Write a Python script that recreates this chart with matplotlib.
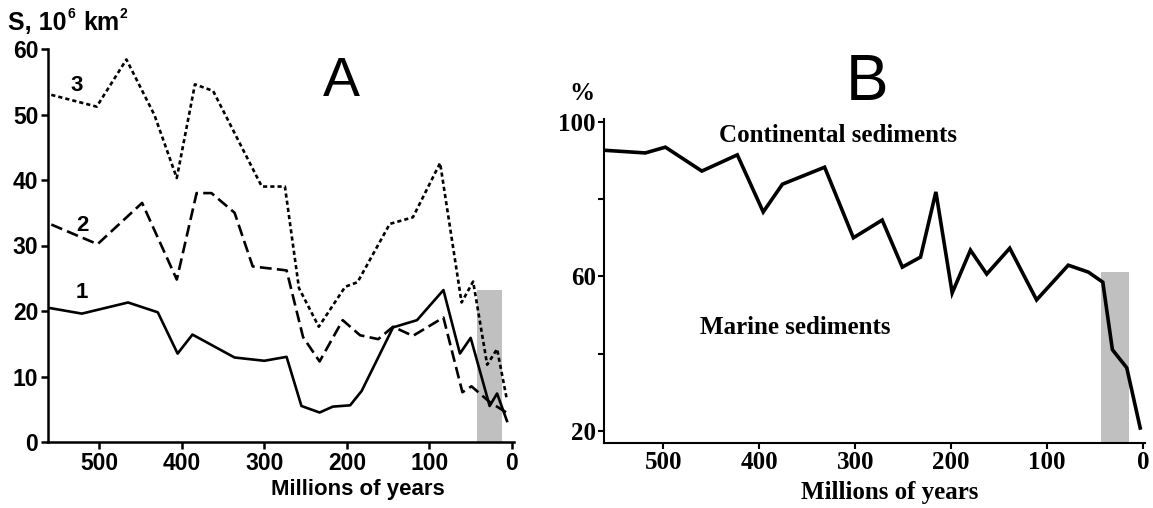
import matplotlib
matplotlib.use("Agg")
import matplotlib.pyplot as plt

# ---------------- data ----------------
# Panel A: area S, 10^6 km^2 vs age (Ma)
a1_age = [562, 521, 465, 429, 405, 387, 336, 300, 273, 255, 233, 217, 196, 182, 144, 115, 83, 63, 50, 27, 18, 6]
a1_val = [20.5, 19.6, 21.3, 19.8, 13.5, 16.4, 12.9, 12.4, 13.0, 5.5, 4.5, 5.4, 5.6, 7.8, 17.5, 18.6, 23.2, 13.5, 15.9, 5.5, 7.4, 3.2]

a2_age = [558, 502, 448, 406, 382, 364, 336, 314, 273, 253, 233, 205, 184, 162, 144, 120, 83, 60, 49, 27, 4]
a2_val = [33.2, 30.2, 36.5, 24.8, 38.0, 38.0, 35.0, 26.8, 26.2, 16.0, 12.3, 18.6, 16.3, 15.7, 17.6, 16.2, 19.0, 7.6, 8.5, 6.1, 4.3]

a3_age = [558, 503, 467, 433, 406, 384, 362, 303, 275, 258, 234, 202, 187, 148, 120, 87, 61, 47, 30, 18, 6]
a3_val = [53.0, 51.2, 58.4, 49.9, 40.3, 54.6, 53.6, 39.0, 39.0, 23.5, 17.6, 23.7, 24.4, 33.3, 34.3, 42.6, 21.3, 24.5, 11.8, 14.2, 6.4]

a_shade_age = [42, 12]
a_shade_top = 23.2
a_xticks = [500, 400, 300, 200, 100, 0]
a_yticks = [0, 10, 20, 30, 40, 50, 60]

# Panel B: % continental sediments vs age (Ma)
b_age = [562, 519, 498, 460, 423, 396, 376, 332, 302, 272, 251, 232, 216, 199, 180, 163, 139, 111, 78, 57, 42, 32, 17, 3]
b_val = [92.7, 92.0, 93.5, 87.3, 91.5, 76.7, 83.9, 88.3, 70.0, 74.6, 62.4, 65.0, 81.9, 55.7, 66.8, 60.6, 67.3, 53.9, 62.9, 61.1, 58.5, 41.0, 36.3, 20.7]
b_shade_age = [44, 15]
b_shade_top = 61.1
b_xticks = [500, 400, 300, 200, 100, 0]
b_yticks = [100, 60, 20]
b_yminor = [80, 40]

# ---------------- figure ----------------
W, H = 1153, 508
plt.rcParams['lines.scale_dashes'] = False
fig = plt.figure(figsize=(W / 100, H / 100), dpi=100)


def box(x0, y0, x1, y1):
    # pixel coordinates (top-left origin) -> figure fraction rect
    return [x0 / W, 1 - y1 / H, (x1 - x0) / W, (y1 - y0) / H]


def px(x, y):
    return x / W, 1 - y / H


SANS = 'Liberation Sans'
SERIF = 'Liberation Serif'
GRAY = '#c0c0c0'

# ---------- Panel A ----------
axA = fig.add_axes(box(48, 49, 514, 442))
axA.set_xlim(562, -2.5)
axA.set_ylim(0, 60)
axA.fill_between(a_shade_age, 0, a_shade_top, color=GRAY, lw=0, zorder=1)
axA.plot(a1_age, a1_val, color='black', lw=1.9, zorder=3)
axA.plot(a2_age, a2_val, color='black', lw=1.9, dashes=(8.5, 3.8), zorder=3)
axA.plot(a3_age, a3_val, color='black', lw=1.9, dashes=(3.0, 2.2), zorder=3)
axA.set_xticks(a_xticks)
axA.set_yticks(a_yticks)
for s in ['top', 'right']:
    axA.spines[s].set_visible(False)
for s in ['left', 'bottom']:
    axA.spines[s].set_linewidth(1.8)
axA.tick_params(direction='out', length=5, width=1.8, pad=2, labelsize=16.5)
for lab in axA.get_xticklabels() + axA.get_yticklabels():
    lab.set_fontfamily(SANS)
    lab.set_fontweight('bold')
axA.text(527, 54.4, '3', fontsize=16, fontweight='bold', family=SANS, ha='center', va='center')
axA.text(520, 33.1, '2', fontsize=16, fontweight='bold', family=SANS, ha='center', va='center')
axA.text(521, 22.9, '1', fontsize=16, fontweight='bold', family=SANS, ha='center', va='center')

fig.text(*px(358, 489), 'Millions of years', fontsize=16, fontweight='bold', family=SANS,
         ha='center', va='center')
# y-axis title with small superscripts
fig.text(*px(8, 23), 'S, 10', fontsize=18, fontweight='bold', family=SANS, ha='left', va='center')
fig.text(*px(67.5, 14), '6', fontsize=10, fontweight='bold', family=SANS, ha='left', va='center')
fig.text(*px(83, 23), 'km', fontsize=18, fontweight='bold', family=SANS, ha='left', va='center')
fig.text(*px(120, 14), '2', fontsize=10, fontweight='bold', family=SANS, ha='left', va='center')
fig.text(*px(341, 82), 'A', fontsize=40, family=SANS, ha='center', va='center')

# ---------- Panel B ----------
axB = fig.add_axes(box(604, 119, 1145, 443))
axB.set_xlim(562, -2)
axB.set_ylim(16.8, 100.8)
axB.fill_between(b_shade_age, 16.8, b_shade_top, color=GRAY, lw=0, zorder=1)
axB.plot(b_age, b_val, color='black', lw=2.6, zorder=3, solid_joinstyle='miter')
axB.set_xticks(b_xticks)
axB.set_yticks(b_yticks)
axB.set_yticks(b_yminor, minor=True)
for s in ['top', 'right']:
    axB.spines[s].set_visible(False)
for s in ['left', 'bottom']:
    axB.spines[s].set_linewidth(1.5)
axB.tick_params(direction='out', length=4, width=1.5, pad=2, labelsize=18)
axB.tick_params(which='minor', direction='out', length=4, width=1.5)
for lab in axB.get_xticklabels() + axB.get_yticklabels():
    lab.set_fontfamily(SERIF)
    lab.set_fontweight('bold')

fig.text(*px(890, 492), 'Millions of years', fontsize=18, fontweight='bold', family=SERIF,
         ha='center', va='center')
fig.text(*px(582, 94), '%', fontsize=18, fontweight='bold', family=SERIF, ha='center', va='center')
fig.text(*px(838, 135), 'Continental sediments', fontsize=18, fontweight='bold', family=SERIF,
         ha='center', va='center')
fig.text(*px(795, 327), 'Marine sediments', fontsize=18, fontweight='bold', family=SERIF,
         ha='center', va='center')
fig.text(*px(867, 83), 'B', fontsize=46, family=SANS, ha='center', va='center')

fig.savefig('out.png', dpi=100)
